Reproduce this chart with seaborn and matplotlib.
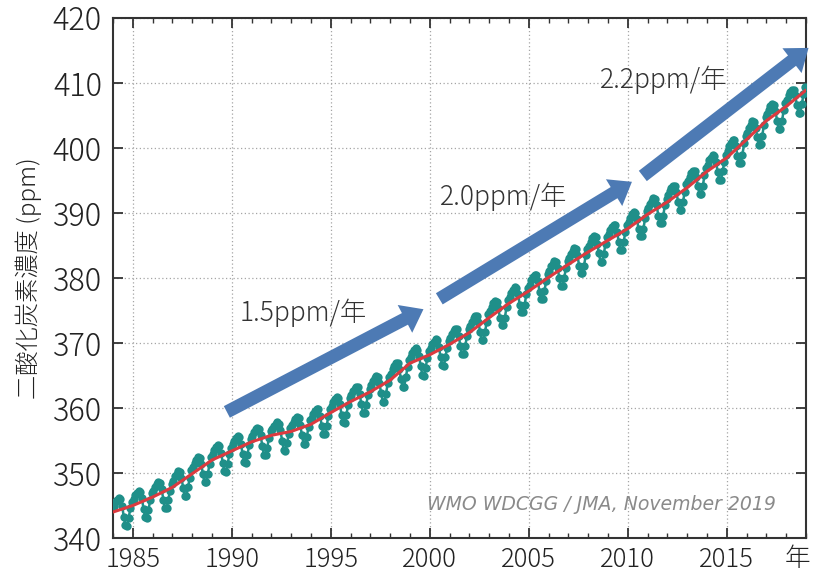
import matplotlib
matplotlib.use("Agg")
import matplotlib.pyplot as plt
import numpy as np
import pandas as pd
import seaborn as sns

# monthly global mean CO2 (ppm), one row per year
years = list(range(1984, 2019))
co2_monthly = [
    [344.9, 345.5, 345.9, 346.2, 346.0, 345.0, 343.3, 342.0, 341.9, 343.1, 344.6, 345.6],  # 1984
    [346.0, 346.6, 347.0, 347.3, 347.1, 346.1, 344.5, 343.2, 343.1, 344.3, 345.8, 346.9],
    [347.3, 347.9, 348.3, 348.6, 348.5, 347.5, 345.9, 344.6, 344.6, 345.8, 347.3, 348.3],
    [348.8, 349.5, 349.9, 350.3, 350.2, 349.3, 347.7, 346.5, 346.5, 347.8, 349.3, 350.4],
    [350.9, 351.6, 352.0, 352.4, 352.3, 351.4, 349.8, 348.6, 348.6, 349.9, 351.4, 352.5],
    [353.0, 353.6, 354.0, 354.3, 354.1, 353.1, 351.6, 350.3, 350.2, 351.4, 352.9, 353.9],  # 1989
    [354.4, 355.0, 355.4, 355.7, 355.5, 354.5, 353.0, 351.7, 351.6, 352.8, 354.3, 355.3],
    [355.7, 356.3, 356.7, 357.0, 356.8, 355.8, 354.1, 352.8, 352.7, 353.9, 355.4, 356.4],
    [356.7, 357.3, 357.6, 357.9, 357.6, 356.6, 354.9, 353.6, 353.4, 354.6, 356.0, 357.0],
    [357.4, 357.9, 358.3, 358.6, 358.4, 357.4, 355.8, 354.5, 354.4, 355.6, 357.1, 358.1],
    [358.5, 359.1, 359.6, 359.9, 359.8, 358.8, 357.3, 356.0, 356.0, 357.2, 358.8, 359.8],  # 1994
    [360.3, 360.9, 361.4, 361.7, 361.5, 360.6, 359.0, 357.8, 357.7, 359.0, 360.5, 361.5],
    [362.0, 362.6, 363.0, 363.3, 363.2, 362.2, 360.6, 359.3, 359.3, 360.5, 362.0, 363.0],
    [363.5, 364.1, 364.6, 364.9, 364.8, 363.8, 362.3, 361.0, 361.0, 362.2, 363.8, 364.8],
    [365.3, 366.0, 366.5, 367.0, 366.9, 366.0, 364.5, 363.3, 363.3, 364.7, 366.3, 367.4],
    [367.9, 368.5, 368.9, 369.2, 369.0, 368.0, 366.4, 365.1, 365.0, 366.2, 367.7, 368.8],  # 1999
    [369.2, 369.8, 370.2, 370.6, 370.4, 369.4, 367.9, 366.6, 366.5, 367.8, 369.3, 370.3],
    [370.8, 371.4, 371.9, 372.2, 372.1, 371.1, 369.6, 368.3, 368.3, 369.5, 371.1, 372.1],
    [372.6, 373.3, 373.8, 374.2, 374.1, 373.2, 371.7, 370.4, 370.4, 371.7, 373.3, 374.4],
    [374.9, 375.6, 376.1, 376.4, 376.3, 375.4, 373.9, 372.7, 372.7, 373.9, 375.5, 376.6],
    [377.1, 377.7, 378.2, 378.6, 378.4, 377.5, 375.9, 374.7, 374.7, 375.9, 377.5, 378.5],  # 2004
    [379.0, 379.7, 380.1, 380.5, 380.4, 379.5, 377.9, 376.7, 376.7, 378.0, 379.5, 380.6],
    [381.1, 381.8, 382.2, 382.6, 382.5, 381.5, 380.0, 378.8, 378.7, 380.0, 381.6, 382.6],
    [383.1, 383.7, 384.2, 384.6, 384.4, 383.5, 381.9, 380.7, 380.7, 381.9, 383.5, 384.5],
    [385.0, 385.6, 386.1, 386.4, 386.3, 385.3, 383.8, 382.5, 382.5, 383.7, 385.3, 386.3],
    [386.8, 387.4, 387.9, 388.2, 388.1, 387.1, 385.6, 384.3, 384.3, 385.5, 387.1, 388.1],  # 2009
    [388.6, 389.3, 389.8, 390.1, 390.0, 389.1, 387.6, 386.4, 386.4, 387.6, 389.2, 390.3],
    [390.8, 391.4, 391.9, 392.3, 392.1, 391.2, 389.6, 388.4, 388.4, 389.6, 391.2, 392.2],
    [392.7, 393.4, 393.9, 394.2, 394.1, 393.2, 391.7, 390.5, 390.5, 391.7, 393.3, 394.4],
    [394.9, 395.6, 396.1, 396.5, 396.4, 395.6, 394.1, 392.9, 392.9, 394.2, 395.8, 396.9],
    [397.4, 398.1, 398.5, 398.9, 398.8, 397.9, 396.3, 395.1, 395.1, 396.4, 397.9, 399.0],  # 2014
    [399.5, 400.3, 400.8, 401.2, 401.2, 400.3, 398.8, 397.7, 397.7, 399.0, 400.7, 401.8],
    [402.3, 403.1, 403.6, 404.1, 404.0, 403.1, 401.7, 400.5, 400.6, 401.9, 403.5, 404.7],
    [405.2, 405.9, 406.4, 406.7, 406.6, 405.7, 404.2, 403.0, 403.0, 404.2, 405.8, 406.9],
    [407.4, 408.1, 408.6, 409.0, 408.9, 408.1, 406.6, 405.4, 405.4, 406.7, 408.3, 409.4],  # 2018
]

# deseasonalised trend at the start of each year
trend_years = list(range(1984, 2020))
trend_values = [344.0, 345.0, 346.3, 347.8, 349.9, 352.0, 353.4, 354.8, 355.8, 356.4,
                357.5, 359.3, 361.0, 362.5, 364.3, 366.9, 368.2, 369.8, 371.6, 373.9,
                376.1, 378.0, 380.1, 382.1, 384.0, 385.8, 387.6, 389.8, 391.7, 393.9,
                396.4, 398.5, 401.3, 404.2, 406.4, 408.9]

# growth-rate arrows: (label, tail, tip)
rate_labels = ["1.5ppm/年", "2.0ppm/年", "2.2ppm/年"]
arrow_tails = [(1989.75, 359.4), (2000.48, 376.8), (2010.76, 395.7)]
arrow_tips = [(1999.68, 375.2), (2010.21, 394.8), (2019.13, 415.4)]
label_pos = [(1990.4, 374.6), (2000.5, 392.5), (2008.6, 410.5)]

TEAL = "#1f8f89"
RED = "#dc3a3f"
ARROW = "#4d7ab4"
JP = ["Noto Sans CJK JP", "DejaVu Sans"]

sns.set_theme(style="ticks")
plt.rcParams["font.family"] = JP
plt.rcParams["font.weight"] = "light"
plt.rcParams["axes.labelweight"] = "light"

rows = []
for yr, vals in zip(years, co2_monthly):
    for m, v in enumerate(vals):
        rows.append({"t": yr + (m + 0.5) / 12, "co2": v})
df = pd.DataFrame(rows)
trend = pd.DataFrame({"t": trend_years, "co2": trend_values})

fig = plt.figure(figsize=(8.16, 5.75), dpi=100)
ax = fig.add_axes([0.1385, 0.0643, 0.8492, 0.9044])

sns.lineplot(data=df, x="t", y="co2", ax=ax, color=TEAL, lw=1.8,
             marker="o", markersize=6, markeredgewidth=0, zorder=3)
sns.lineplot(data=trend, x="t", y="co2", ax=ax, color=RED, lw=2.2, zorder=4)

ax.set_xlim(1984, 2019)
ax.set_ylim(340, 420)
ax.set_xticks(range(1985, 2016, 5))
ax.set_xticks(range(1984, 2020), minor=True)
ax.set_yticks(range(340, 421, 10))
ax.grid(True, which="major", ls=(0, (1, 2)), color="#a5a5a5", lw=0.9)
ax.tick_params(which="both", direction="in", top=True, right=True, color="#333333")
ax.tick_params(which="major", length=7, width=1.3)
ax.tick_params(which="minor", length=3.5, width=1.0)
ax.tick_params(axis="x", labelsize=18.5, pad=6, labelcolor="#222222")
ax.tick_params(axis="y", labelsize=22, pad=8, labelcolor="#222222")
for sp in ax.spines.values():
    sp.set_color("#333333")
    sp.set_linewidth(1.5)

ax.set_xlabel("")
ax.set_ylabel("二酸化炭素濃度 (ppm)", fontsize=17.5, color="#222222", labelpad=8)
ax.text(0.9885, -0.04, "年", transform=ax.transAxes, ha="center", va="center",
        fontsize=18.5, color="#222222")

for (tx, ty), (hx, hy) in zip(arrow_tails, arrow_tips):
    ax.annotate("", xy=(hx, hy), xytext=(tx, ty), annotation_clip=False,
                arrowprops=dict(arrowstyle="simple,head_length=1.6,head_width=2.4,tail_width=1.0",
                                mutation_scale=9.4, fc=ARROW, ec="none", lw=0,
                                shrinkA=0, shrinkB=0), zorder=5)
for text, (lx, ly) in zip(rate_labels, label_pos):
    ax.text(lx, ly, text, fontsize=19, color="#333333", ha="left", va="center", zorder=6)

ax.text(2017.5, 345.1, "WMO WDCGG / JMA, November 2019", family="DejaVu Sans",
        style="italic", weight="normal", fontsize=13.6, color="#8a8a8a",
        ha="right", va="center", zorder=6)

fig.savefig("out.png", dpi=100)
